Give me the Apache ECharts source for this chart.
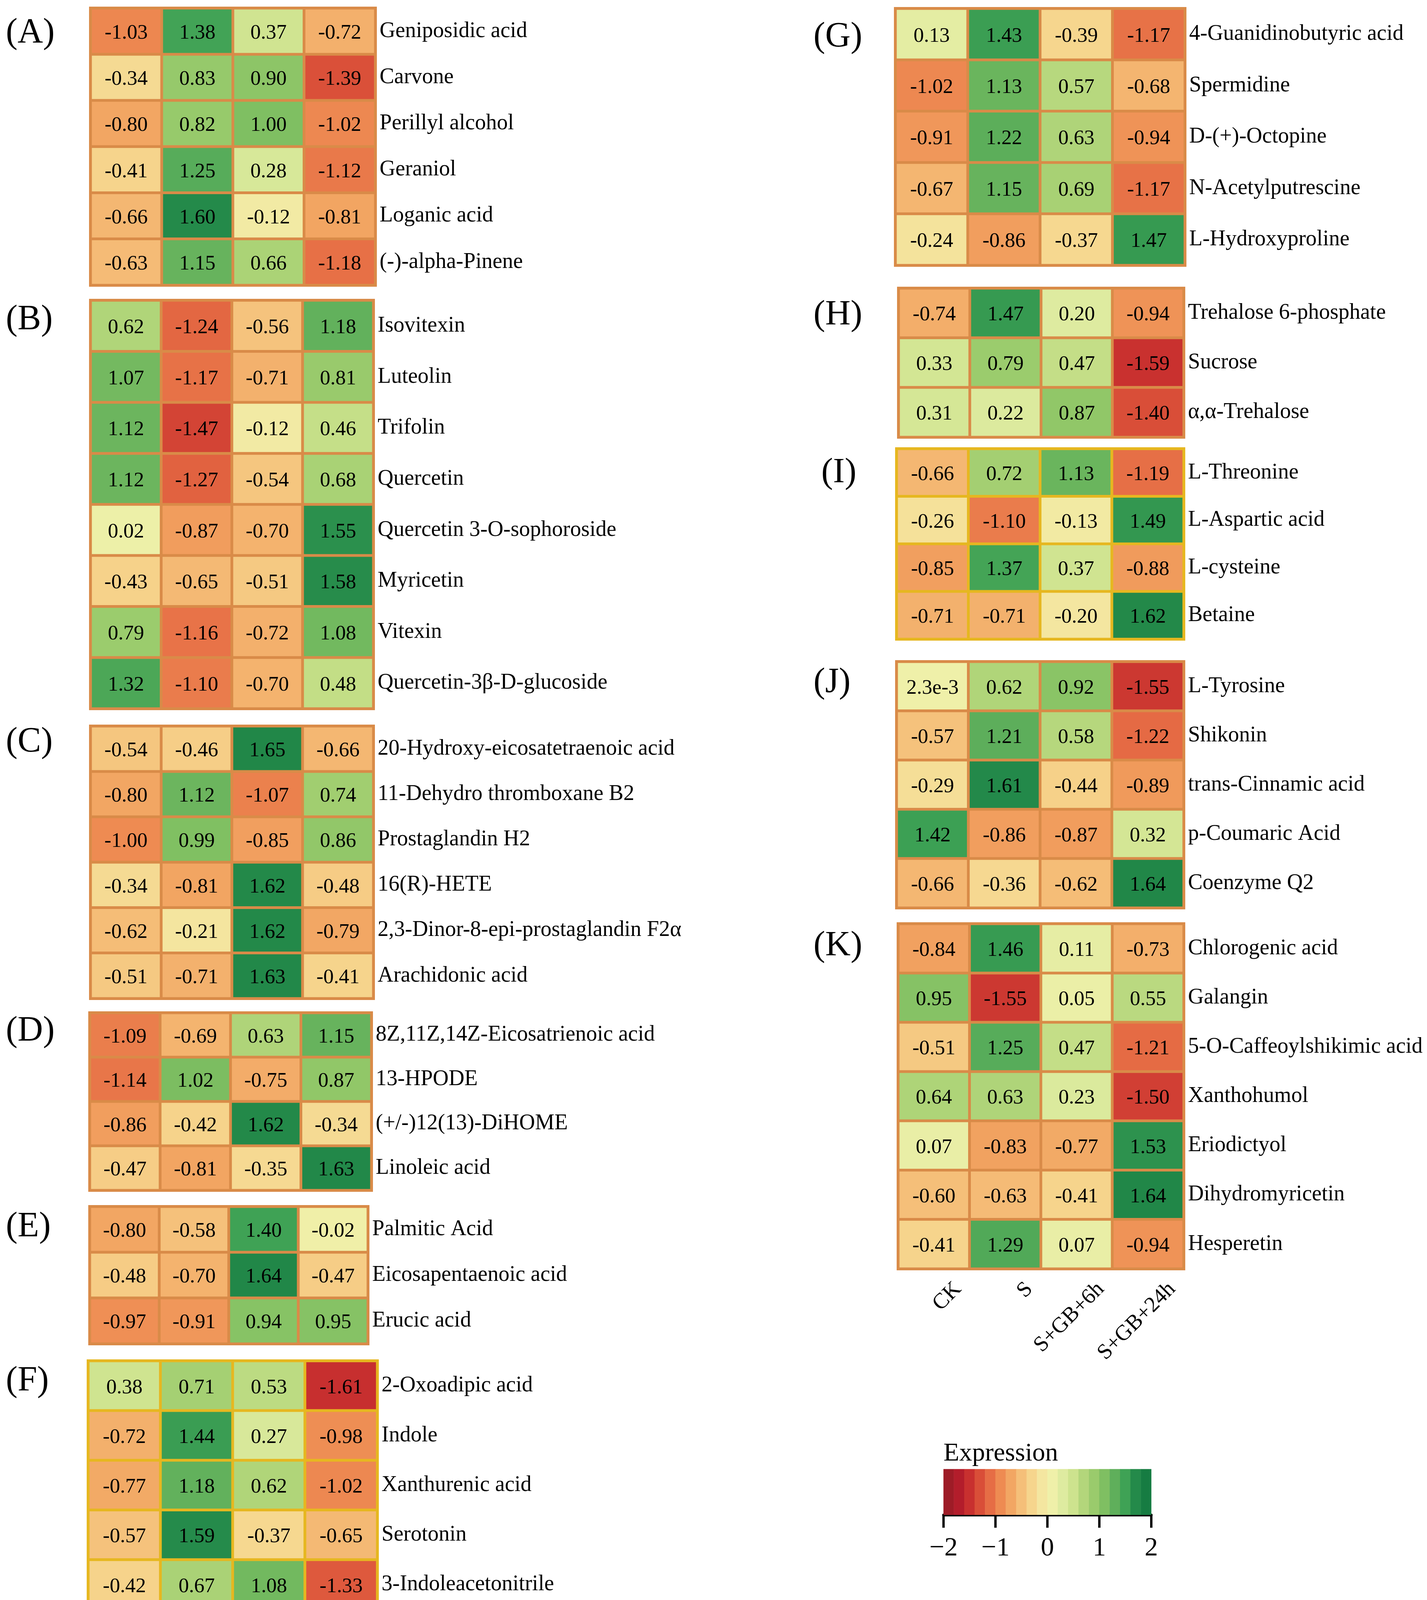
<!DOCTYPE html>
<html>
<head>
<meta charset="utf-8">
<script src="https://cdn.jsdelivr.net/npm/echarts@6/dist/echarts.min.js"></script>
<style>
  html, body { margin: 0; padding: 0; background: #fff; }
  #chart { width: 3654px; height: 4755px; }
</style>
</head>
<body>
<div id="chart"></div>
<script>
// groups on the x axis
const groups = ['CK', 'S', 'S+GB+6h', 'S+GB+24h'];

// (A)
const namesA = ['Geniposidic acid', 'Carvone', 'Perillyl alcohol', 'Geraniol', 'Loganic acid', '(-)-alpha-Pinene'];
const valuesA = [
  [-1.03, 1.38, 0.37, -0.72],
  [-0.34, 0.83, 0.90, -1.39],
  [-0.80, 0.82, 1.00, -1.02],
  [-0.41, 1.25, 0.28, -1.12],
  [-0.66, 1.60, -0.12, -0.81],
  [-0.63, 1.15, 0.66, -1.18]
];

// (B)
const namesB = ['Isovitexin', 'Luteolin', 'Trifolin', 'Quercetin', 'Quercetin 3-O-sophoroside', 'Myricetin', 'Vitexin', 'Quercetin-3β-D-glucoside'];
const valuesB = [
  [0.62, -1.24, -0.56, 1.18],
  [1.07, -1.17, -0.71, 0.81],
  [1.12, -1.47, -0.12, 0.46],
  [1.12, -1.27, -0.54, 0.68],
  [0.02, -0.87, -0.70, 1.55],
  [-0.43, -0.65, -0.51, 1.58],
  [0.79, -1.16, -0.72, 1.08],
  [1.32, -1.10, -0.70, 0.48]
];

// (C)
const namesC = ['20-Hydroxy-eicosatetraenoic acid', '11-Dehydro thromboxane B2', 'Prostaglandin H2', '16(R)-HETE', '2,3-Dinor-8-epi-prostaglandin F2α', 'Arachidonic acid'];
const valuesC = [
  [-0.54, -0.46, 1.65, -0.66],
  [-0.80, 1.12, -1.07, 0.74],
  [-1.00, 0.99, -0.85, 0.86],
  [-0.34, -0.81, 1.62, -0.48],
  [-0.62, -0.21, 1.62, -0.79],
  [-0.51, -0.71, 1.63, -0.41]
];

// (D)
const namesD = ['8Z,11Z,14Z-Eicosatrienoic acid', '13-HPODE', '(+/-)12(13)-DiHOME', 'Linoleic acid'];
const valuesD = [
  [-1.09, -0.69, 0.63, 1.15],
  [-1.14, 1.02, -0.75, 0.87],
  [-0.86, -0.42, 1.62, -0.34],
  [-0.47, -0.81, -0.35, 1.63]
];

// (E)
const namesE = ['Palmitic Acid', 'Eicosapentaenoic acid', 'Erucic acid'];
const valuesE = [
  [-0.80, -0.58, 1.40, -0.02],
  [-0.48, -0.70, 1.64, -0.47],
  [-0.97, -0.91, 0.94, 0.95]
];

// (F)
const namesF = ['2-Oxoadipic acid', 'Indole', 'Xanthurenic acid', 'Serotonin', '3-Indoleacetonitrile', 'Melatonin', 'Indole-3-acetamide', 'Kynurenic acid'];
const valuesF = [
  [0.38, 0.71, 0.53, -1.61],
  [-0.72, 1.44, 0.27, -0.98],
  [-0.77, 1.18, 0.62, -1.02],
  [-0.57, 1.59, -0.37, -0.65],
  [-0.42, 0.67, 1.08, -1.33],
  [-0.83, 1.36, 0.39, -0.91],
  [0.64, 0.80, -0.06, -1.38],
  [0.88, 0.97, -0.56, -1.28]
];

// (G)
const namesG = ['4-Guanidinobutyric acid', 'Spermidine', 'D-(+)-Octopine', 'N-Acetylputrescine', 'L-Hydroxyproline'];
const valuesG = [
  [0.13, 1.43, -0.39, -1.17],
  [-1.02, 1.13, 0.57, -0.68],
  [-0.91, 1.22, 0.63, -0.94],
  [-0.67, 1.15, 0.69, -1.17],
  [-0.24, -0.86, -0.37, 1.47]
];

// (H)
const namesH = ['Trehalose 6-phosphate', 'Sucrose', 'α,α-Trehalose'];
const valuesH = [
  [-0.74, 1.47, 0.20, -0.94],
  [0.33, 0.79, 0.47, -1.59],
  [0.31, 0.22, 0.87, -1.40]
];

// (I)
const namesI = ['L-Threonine', 'L-Aspartic acid', 'L-cysteine', 'Betaine'];
const valuesI = [
  [-0.66, 0.72, 1.13, -1.19],
  [-0.26, -1.10, -0.13, 1.49],
  [-0.85, 1.37, 0.37, -0.88],
  [-0.71, -0.71, -0.20, 1.62]
];

// (J)
const namesJ = ['L-Tyrosine', 'Shikonin', 'trans-Cinnamic acid', 'p-Coumaric Acid', 'Coenzyme Q2'];
const valuesJ = [
  [0.0023, 0.62, 0.92, -1.55],
  [-0.57, 1.21, 0.58, -1.22],
  [-0.29, 1.61, -0.44, -0.89],
  [1.42, -0.86, -0.87, 0.32],
  [-0.66, -0.36, -0.62, 1.64]
];

// (K)
const namesK = ['Chlorogenic acid', 'Galangin', '5-O-Caffeoylshikimic acid', 'Xanthohumol', 'Eriodictyol', 'Dihydromyricetin', 'Hesperetin'];
const valuesK = [
  [-0.84, 1.46, 0.11, -0.73],
  [0.95, -1.55, 0.05, 0.55],
  [-0.51, 1.25, 0.47, -1.21],
  [0.64, 0.63, 0.23, -1.50],
  [0.07, -0.83, -0.77, 1.53],
  [-0.60, -0.63, -0.41, 1.64],
  [-0.41, 1.29, 0.07, -0.94]
];

// colour key: lower edge of each of the 20 legend blocks
const legendBins = [-2.0, -1.8, -1.6, -1.4, -1.2, -1.0, -0.8, -0.6, -0.4, -0.2,
                    0.0, 0.2, 0.4, 0.6, 0.8, 1.0, 1.2, 1.4, 1.6, 1.8];

const FONT = '"Liberation Serif", "Times New Roman", serif';
const ORANGE = '#D98B48';
const GOLD = '#E6B720';
const palette = ['#9E1C27', '#B31D2B', '#C8302F', '#D94E38', '#E66D45', '#EE8B52', '#F2A663',
  '#F5BF79', '#F6D58D', '#F4E6A0', '#EFF0A9', '#DEEBA0', '#CDE38E', '#B3D67B', '#9ACB6C',
  '#7FBF62', '#5FAF5B', '#3FA255', '#248A4A', '#167C42', '#167C42'];

// outer box of each panel, letter position; dx = shift of the slanted group labels
const panels = [
  { tag: '(A)', names: namesA, values: valuesA, x0: 228, x1: 965, y0: 17, y1: 734, lx: 15, ly: 85, c: ORANGE },
  { tag: '(B)', names: namesB, values: valuesB, x0: 228, x1: 960, y0: 765, y1: 1818, lx: 15, ly: 819, c: ORANGE },
  { tag: '(C)', names: namesC, values: valuesC, x0: 228, x1: 960, y0: 1855, y1: 2560, lx: 15, ly: 1900, c: ORANGE },
  { tag: '(D)', names: namesD, values: valuesD, x0: 226, x1: 955, y0: 2589, y1: 3051, lx: 15, ly: 2640, c: ORANGE },
  { tag: '(E)', names: namesE, values: valuesE, x0: 226, x1: 946, y0: 3085, y1: 3444, lx: 15, ly: 3141, c: ORANGE },
  { tag: '(F)', names: namesF, values: valuesF, x0: 222, x1: 970, y0: 3480, y1: 4506, lx: 15, ly: 3536, c: GOLD, axis: true, dx: 6 },
  { tag: '(G)', names: namesG, values: valuesG, x0: 2289, x1: 3038, y0: 18, y1: 683, lx: 2083, ly: 95, c: ORANGE },
  { tag: '(H)', names: namesH, values: valuesH, x0: 2297, x1: 3035, y0: 734, y1: 1123, lx: 2083, ly: 807, c: ORANGE },
  { tag: '(I)', names: namesI, values: valuesI, x0: 2292, x1: 3035, y0: 1145, y1: 1640, lx: 2103, ly: 1211, c: GOLD },
  { tag: '(J)', names: namesJ, values: valuesJ, x0: 2292, x1: 3035, y0: 1690, y1: 2328, lx: 2083, ly: 1748, c: ORANGE },
  { tag: '(K)', names: namesK, values: valuesK, x0: 2296, x1: 3035, y0: 2361, y1: 3252, lx: 2083, ly: 2422, c: ORANGE, axis: true, dx: 42 }
];

function fmtVal(v) {
  if (v !== 0 && Math.abs(v) < 0.005) return v.toExponential(1);
  return v.toFixed(2);
}

const grid = [], xAxis = [], yAxis = [], series = [], graphic = [];

panels.forEach((p, i) => {
  grid.push({
    left: p.x0 + 4, top: p.y0 + 4,
    width: p.x1 - p.x0 - 8, height: p.y1 - p.y0 - 8,
    show: true, backgroundColor: p.c, borderColor: p.c, borderWidth: 8
  });
  xAxis.push({ type: 'category', gridIndex: i, data: groups, show: false });
  yAxis.push({
    type: 'category', gridIndex: i, data: p.names, inverse: true, position: 'right',
    axisLine: { show: false }, axisTick: { show: false }, splitLine: { show: false },
    axisLabel: { interval: 0, margin: 11, fontSize: 56, color: '#000', fontFamily: FONT, padding: [14, 0, 0, 0] }
  });
  const cells = [];
  p.values.forEach((row, r) => row.forEach((v, c) => cells.push([c, r, v])));
  series.push({
    type: 'heatmap', xAxisIndex: i, yAxisIndex: i, data: cells,
    itemStyle: { borderColor: p.c, borderWidth: 7 },
    label: {
      show: true, fontSize: 53, color: '#000', fontFamily: FONT, offset: [0, 5],
      formatter: (q) => fmtVal(q.value[2])
    },
    emphasis: { disabled: true }
  });
  graphic.push({
    type: 'text', x: p.lx, y: p.ly,
    style: { text: p.tag, fontSize: 90, fontFamily: FONT, fill: '#000', verticalAlign: 'middle' }
  });
});

// slanted group labels under (F) and (K), on their own slightly shifted grids
panels.forEach((p) => {
  if (!p.axis) return;
  const gi = grid.length;
  grid.push({ left: p.x0 + 4 + p.dx, top: p.y0 + 4, width: p.x1 - p.x0 - 8, height: p.y1 - p.y0 - 8 });
  xAxis.push({
    type: 'category', gridIndex: gi, data: groups, position: 'bottom',
    axisLine: { show: false }, axisTick: { show: false }, splitLine: { show: false },
    axisLabel: { rotate: 45, interval: 0, margin: 24, verticalAlign: 'top', fontSize: 56, color: '#000', fontFamily: FONT }
  });
  yAxis.push({ type: 'category', gridIndex: gi, data: p.names, show: false });
});

// colour key
const li = grid.length;
grid.push({ left: 2416, top: 3761, width: 532, height: 117 });
const lx0 = xAxis.length;
xAxis.push({ type: 'category', gridIndex: li, data: legendBins.map(String), show: false });
xAxis.push({
  type: 'value', gridIndex: li, min: -2, max: 2, interval: 1, position: 'bottom',
  axisLine: { show: true, lineStyle: { color: '#000', width: 7 } },
  axisTick: { show: true, length: 33, lineStyle: { color: '#000', width: 6 } },
  splitLine: { show: false },
  axisLabel: {
    margin: 52, fontSize: 68, color: '#000', fontFamily: FONT,
    formatter: (v) => String(v).replace('-', '\u2212')
  }
});
const ly0 = yAxis.length;
yAxis.push({ type: 'category', gridIndex: li, data: ['Expression'], show: false });
series.push({
  type: 'heatmap', xAxisIndex: lx0, yAxisIndex: ly0,
  data: legendBins.map((v, i) => [i, 0, v]),
  itemStyle: { borderWidth: 0 },
  label: { show: false },
  emphasis: { disabled: true }
});
graphic.push({
  type: 'text', x: 2416, y: 3722,
  style: { text: 'Expression', fontSize: 66, fontFamily: FONT, fill: '#000', verticalAlign: 'middle' }
});

const myChart = echarts.init(document.getElementById('chart'));
myChart.setOption({
  animation: false,
  backgroundColor: '#fff',
  textStyle: { fontFamily: FONT },
  grid: grid,
  xAxis: xAxis,
  yAxis: yAxis,
  visualMap: {
    type: 'continuous', show: false, min: -2, max: 2, dimension: 2,
    inRange: { color: palette }
  },
  graphic: graphic,
  series: series
});
</script>
</body>
</html>
